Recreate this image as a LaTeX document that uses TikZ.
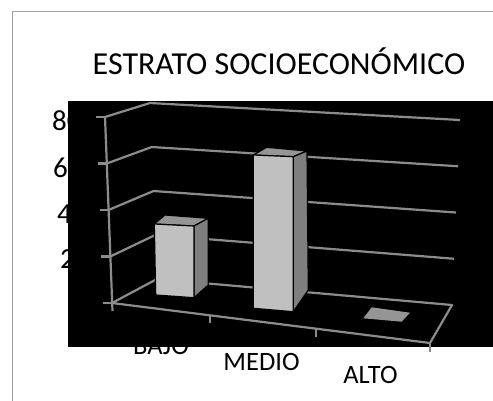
\documentclass[tikz,border=0pt]{standalone}
\usepackage{fontspec}
\setmainfont{Carlito}

\definecolor{framegray}{HTML}{A0A0A0}
\definecolor{gridgray}{HTML}{8C8C8C}
\definecolor{frontgray}{HTML}{C0C0C0}
\definecolor{sidegray}{HTML}{7F7F7F}
\definecolor{topgray}{HTML}{959595}

\begin{document}
\begin{tikzpicture}[x=1pt, y=-1pt,
  gridline/.style={gridgray, line width=2.2pt, line join=round},
  face/.style={draw=black, line width=1.2pt, line join=round},
  titletext/.style={font=\fontsize{32}{36}\selectfont, inner sep=0pt},
  ticktext/.style={font=\fontsize{29}{32}\selectfont, inner sep=0pt},
  cattext/.style={font=\fontsize{26.5}{30}\selectfont, inner sep=0pt}]

% Fix the page size
\useasboundingbox (0,0) rectangle (493,400);

% Draw the chart frame (right and bottom sides lie outside the page)
\draw[framegray, line width=1.5pt] (12.5,410) -- (12.5,11.5) -- (500,11.5);

% Title
\node[titletext, anchor=base] (title) at (279,74) {ESTRATO SOCIOECONÓMICO};

% Value labels (partly hidden by the plot area)
\node[ticktext, anchor=base west] (v80) at (52,130) {80};
\node[ticktext, anchor=base west] (v60) at (53,177) {60};
\node[ticktext, anchor=base west] (v40) at (57,223) {40};
\node[ticktext, anchor=base west] (v20) at (60,268) {20};

% Category labels
\node[cattext, anchor=base] (bajo) at (161,354) {BAJO};
\node[cattext, anchor=base] (medio) at (261.5,370) {MEDIO};
\node[cattext, anchor=base] (alto) at (370.5,383) {ALTO};

% Plot area
\fill[black] (68,101) rectangle (500,347);

% Define the corners of the walls, one set per level
% F = front-left axis, L = back-left corner, R = back-right end
\foreach \k in {0,...,4} {
  \coordinate (F\k) at ({112-1.75*\k},{303-46.5*\k});
  \coordinate (L\k) at ({157-1.75*\k},{279-44*\k});
  \coordinate (R\k) at ({452+2*\k},{305-46.25*\k});
}
\coordinate (FR) at (430,343);
\coordinate (Fx) at (112.5,311);
\coordinate (T1) at (210,315.3);
\coordinate (T2) at (316,328.7);

% Draw grid lines on the walls
\foreach \k in {1,...,4}
  \draw[gridline] (F\k) -- (L\k) -- (R\k);

% Draw the floor
\draw[gridline] (F0) -- (L0) -- (R0) -- (FR) -- cycle;

% Draw the value axis and its ticks
\draw[gridline] (F4) -- (Fx);
\foreach \k in {0,...,4}
  \draw[gridline] (F\k) -- ++(-9,0);

% Draw the category ticks
\draw[gridline] (T1) -- ++(0,8);
\draw[gridline] (T2) -- ++(0,8);
\draw[gridline] (FR) -- ++(0,9);

% Bar BAJO
\filldraw[face, fill=topgray] (154.3,224) -- (194,226) -- (208.3,218.3) -- (165,215) -- cycle;
\filldraw[face, fill=sidegray] (194,226) -- (208.3,218.3) -- (208.3,285) -- (194,297.7) -- cycle;
\filldraw[face, fill=frontgray] (154.3,224) -- (194,226) -- (194,297.7) -- (155.7,295) -- cycle;

% Bar MEDIO
\filldraw[face, fill=topgray] (253.3,155) -- (293.3,156.7) -- (307,151) -- (266.7,147.3) -- cycle;
\filldraw[face, fill=sidegray] (293.3,156.7) -- (307,151) -- (308.3,290) -- (293.3,311.7) -- cycle;
\filldraw[face, fill=frontgray] (253.3,155) -- (293.3,156.7) -- (293.3,311.7) -- (253.3,308.3) -- cycle;

% Bar ALTO (zero height)
\fill[topgray] (363.3,318.3) -- (401.7,321.7) -- (410,312.7) -- (371.7,307.3) -- cycle;

\end{tikzpicture}
\end{document}
